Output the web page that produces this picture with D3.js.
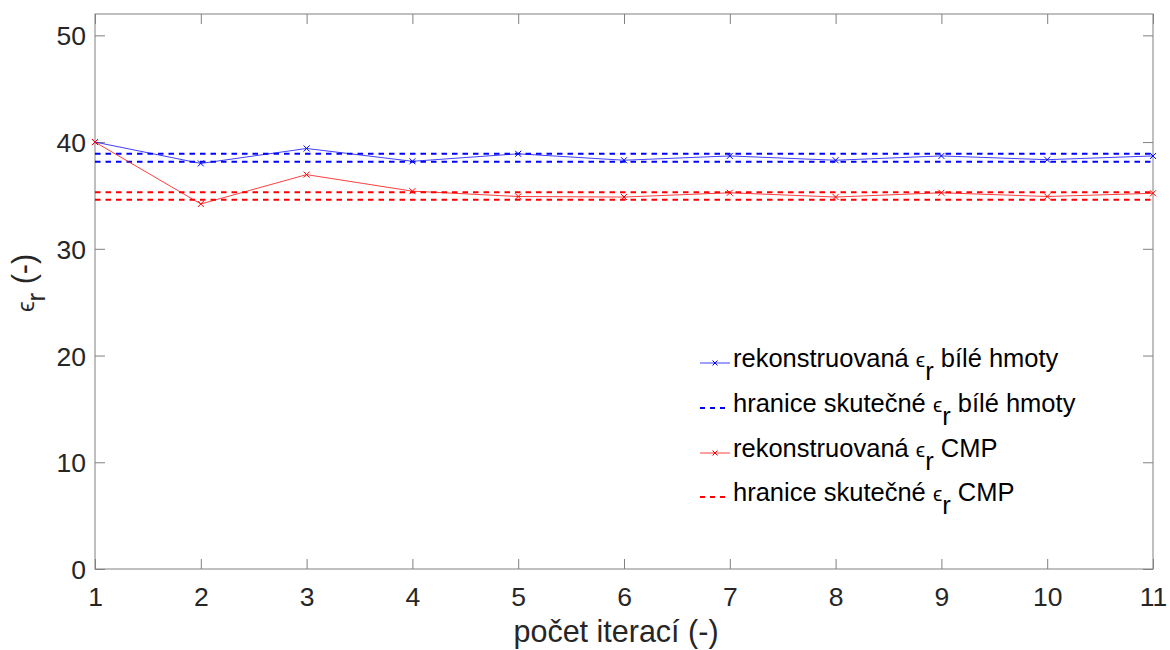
<!DOCTYPE html>
<html>
<head>
<meta charset="utf-8">
<script src="https://cdn.jsdelivr.net/npm/d3@7"></script>
<style>
  html, body { margin: 0; padding: 0; background: #fff; }
  svg { display: block; font-family: "Liberation Sans", Arial, Helvetica, sans-serif; }
</style>
</head>
<body>
<svg id="chart" width="1170" height="650"></svg>
<script>
// ---- data ----
const iterations = [1, 2, 3, 4, 5, 6, 7, 8, 9, 10, 11];
const whiteMatter = [40.0, 38.0, 39.4, 38.2, 38.9, 38.3, 38.7, 38.3, 38.7, 38.35, 38.7];
const cmp = [40.0, 34.2, 36.95, 35.4, 34.9, 34.85, 35.25, 34.85, 35.25, 34.9, 35.2];
const whiteBounds = [38.15, 38.9];
const cmpBounds = [34.6, 35.3];
const xTicks = [1, 2, 3, 4, 5, 6, 7, 8, 9, 10, 11];
const yTicks = [0, 10, 20, 30, 40, 50];
const legendLabels = [
  ["rekonstruovaná ", "bílé hmoty"],
  ["hranice skutečné ", "bílé hmoty"],
  ["rekonstruovaná ", "CMP"],
  ["hranice skutečné ", "CMP"]
];

// ---- layout ----
const L = 95, R = 1153, T = 14, B = 569;
const svg = d3.select("#chart");
const x = d3.scaleLinear().domain([1, 11]).range([L, R]);
const y = d3.scaleLinear().domain([0, 52]).range([B, T]);

const axisColor = "#808080";
const textColor = "#262626";
const FS = 26.5;
const LFS = 30.5;

// box
svg.append("rect").attr("x", L).attr("y", T).attr("width", R - L).attr("height", B - T)
  .attr("fill", "none").attr("stroke", axisColor).attr("stroke-width", 1);

// axes with inward ticks
const xAxis = svg.append("g").attr("transform", `translate(0,${B})`)
  .call(d3.axisBottom(x).tickValues(xTicks).tickSize(-10).tickPadding(18).tickFormat(d3.format("d")));
const xAxisTop = svg.append("g").attr("transform", `translate(0,${T})`)
  .call(d3.axisTop(x).tickValues(xTicks).tickSize(-10).tickFormat(""));
const yAxis = svg.append("g").attr("transform", `translate(${L},0)`)
  .call(d3.axisLeft(y).tickValues(yTicks).tickSize(-10).tickPadding(9).tickFormat(d3.format("d")));
const yAxisR = svg.append("g").attr("transform", `translate(${R},0)`)
  .call(d3.axisRight(y).tickValues(yTicks).tickSize(-10).tickFormat(""));

[xAxis, xAxisTop, yAxis, yAxisR].forEach(g => {
  g.select(".domain").remove();
  g.selectAll(".tick line").attr("stroke", axisColor);
  g.selectAll(".tick text").attr("fill", textColor).style("font-size", FS + "px")
    .style("font-family", "'Liberation Sans', Arial, sans-serif");
});
xAxis.selectAll(".tick text").attr("dy", "0.71em");
yAxis.selectAll(".tick text").attr("dy", "0.36em");

// dashed bound lines
const boundData = [
  ...whiteBounds.map(v => ({ v, c: "#0000ff" })),
  ...cmpBounds.map(v => ({ v, c: "#ff0000" }))
];
svg.append("g").selectAll("line").data(boundData).enter().append("line")
  .attr("x1", x(1)).attr("x2", x(11))
  .attr("y1", d => y(d.v)).attr("y2", d => y(d.v))
  .attr("stroke", d => d.c).attr("stroke-width", 2).attr("stroke-dasharray", "5.5,5");

// series
const line = d3.line().x((d, i) => x(iterations[i])).y(d => y(d));
function drawSeries(vals, color) {
  const g = svg.append("g");
  g.append("path").datum(vals).attr("d", line).attr("fill", "none")
    .attr("stroke", color).attr("stroke-width", 1).attr("stroke-opacity", 0.75);
  const s = 3;
  g.selectAll("path.m").data(vals).enter().append("path").attr("class", "m")
    .attr("d", (d, i) => {
      const cx = x(iterations[i]), cy = y(d);
      return `M${cx - s},${cy - s}L${cx + s},${cy + s}M${cx - s},${cy + s}L${cx + s},${cy - s}`;
    })
    .attr("stroke", color).attr("stroke-width", 1).attr("fill", "none");
}
drawSeries(whiteMatter, "#0000ff");
drawSeries(cmp, "#ff0000");

// axis labels
svg.append("text").attr("x", 616).attr("y", 642).attr("text-anchor", "middle")
  .attr("fill", textColor).style("font-size", LFS + "px").text("počet iterací (-)");

const yl = svg.append("text").attr("transform", "translate(34,283) rotate(-90)")
  .attr("text-anchor", "middle").attr("fill", textColor).style("font-size", LFS + "px");
yl.append("tspan").text("ϵ").style("font-size", "24px");
yl.append("tspan").text("r").attr("dy", 11).style("font-size", "26px");
yl.append("tspan").text(" (-)").attr("dy", -11);

// legend
const legRowsY = [363, 408, 453, 497];
const legStyles = [
  { c: "#0000ff", dash: null, marker: true },
  { c: "#0000ff", dash: "5.5,5", marker: false },
  { c: "#ff0000", dash: null, marker: true },
  { c: "#ff0000", dash: "5.5,5", marker: false }
];
const leg = svg.append("g");
legRowsY.forEach((ly, i) => {
  const st = legStyles[i];
  const ln = leg.append("line").attr("x1", 700).attr("x2", 730).attr("y1", ly).attr("y2", ly)
    .attr("stroke", st.c).attr("stroke-width", st.dash ? 2 : 1);
  if (st.dash) ln.attr("stroke-dasharray", "5,5");
  else ln.attr("stroke-opacity", 0.75);
  if (st.marker) {
    const s = 2.5;
    leg.append("path").attr("d", `M${715 - s},${ly - s}L${715 + s},${ly + s}M${715 - s},${ly + s}L${715 + s},${ly - s}`)
      .attr("stroke", st.c).attr("stroke-width", 1);
  }
  const t = leg.append("text").attr("x", 733).attr("y", ly + 4).attr("fill", "#000")
    .style("font-size", "25.5px");
  t.append("tspan").text(legendLabels[i][0]);
  t.append("tspan").text("ϵ").style("font-size", "21px");
  t.append("tspan").text("r").attr("dy", 13);
  t.append("tspan").text(" " + legendLabels[i][1]).attr("dy", -13);
});
</script>
</body>
</html>
